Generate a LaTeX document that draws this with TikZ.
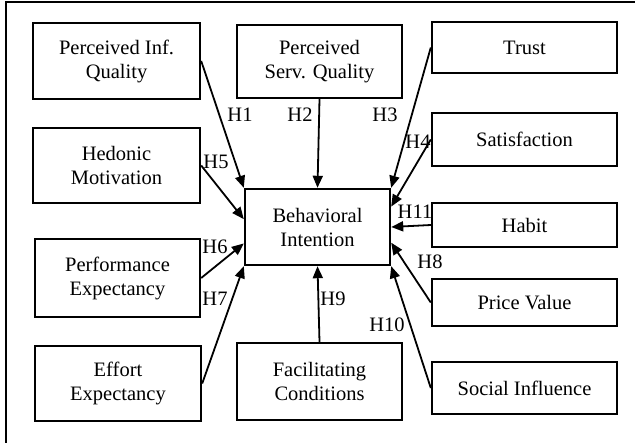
\documentclass[tikz,border=0pt]{standalone}
\usepackage{fontspec}
\setmainfont{Liberation Serif}
\usepackage{tikz}
\usetikzlibrary{arrows.meta, calc}
\tikzstyle{arrow} = [-{Triangle[length=12pt,width=10pt]}, line width=1.8pt]
\tikzstyle{block} = [draw, rectangle, line width=2.4pt, inner sep=0pt, align=center, font=\fontsize{20.5}{24}\selectfont]
\tikzstyle{hyp} = [inner sep=0pt, font=\fontsize{20.5}{24}\selectfont]

\begin{document}
\begin{tikzpicture}[x=1pt, y=-1pt]
        \useasboundingbox (0,0) rectangle (635,443);
        \draw [line width=2pt] (6,443) -- (6,2) -- (635,2);

        % left column
        \node [block, minimum width=167pt, minimum height=76pt] (infQuality) at (116.5,61) {Perceived Inf.\\Quality};
        \node [block, minimum width=167pt, minimum height=75pt] (hedonic) at (116.5,165.5) {Hedonic\\Motivation};
        \node [block, minimum width=165pt, minimum height=78pt] (performance) at (117.5,278) {Performance\\Expectancy};
        \node [block, minimum width=166pt, minimum height=75pt] (effort) at (118,383.5) {Effort\\Expectancy};
        % middle column
        \node [block, minimum width=165pt, minimum height=73pt] (servQuality) at (319.5,61.5) {Perceived\\Serv. Quality};
        \node [block, minimum width=145pt, minimum height=76pt] (intention) at (317.5,227) {Behavioral\\Intention};
        \node [block, minimum width=165pt, minimum height=77pt] (conditions) at (319.5,381.5) {Facilitating\\Conditions};
        % right column
        \node [block, minimum width=185pt, minimum height=51pt] (trust) at (524.5,47.5) {Trust};
        \node [block, minimum width=185pt, minimum height=53pt] (satisfaction) at (524.5,139.5) {Satisfaction};
        \node [block, minimum width=185pt, minimum height=44pt] (habit) at (524.5,225) {Habit};
        \node [block, minimum width=185pt, minimum height=47pt] (priceValue) at (524.5,302.5) {Price Value};
        \node [block, minimum width=185pt, minimum height=52pt] (socialInfluence) at (524.5,388) {Social Influence};

        \path [arrow] (infQuality.east) edge (intention.north west);
        \path [arrow] (servQuality.south) edge (intention.north);
        \path [arrow] (trust.west) edge (intention.north east);
        \path [arrow] (satisfaction.west) edge ($(intention.north east)!0.24!(intention.south east)$);
        \path [arrow] (habit.west) edge (intention.east);
        \path [arrow] (priceValue.west) edge ($(intention.north east)!0.7!(intention.south east)$);
        \path [arrow] (socialInfluence.west) edge (intention.south east);
        \path [arrow] (conditions.north) edge (intention.south);
        \path [arrow] (hedonic.east) edge ($(intention.north west)!0.4!(intention.south west)$);
        \path [arrow] (performance.east) edge ($(intention.north west)!0.71!(intention.south west)$);
        \path [arrow] (effort.east) edge (intention.south west);

        \node [hyp] (h1) at (240,115) {H1};
        \node [hyp] (h2) at (300,115) {H2};
        \node [hyp] (h3) at (385,115) {H3};
        \node [hyp] (h4) at (418,142) {H4};
        \node [hyp] (h5) at (216,162) {H5};
        \node [hyp] (h6) at (215,247) {H6};
        \node [hyp] (h7) at (215,299) {H7};
        \node [hyp] (h8) at (430,262) {H8};
        \node [hyp] (h9) at (333,299) {H9};
        \node [hyp] (h10) at (387,325) {H10};
        \node [hyp] (h11) at (415,212) {H11};
\end{tikzpicture}
\end{document}
